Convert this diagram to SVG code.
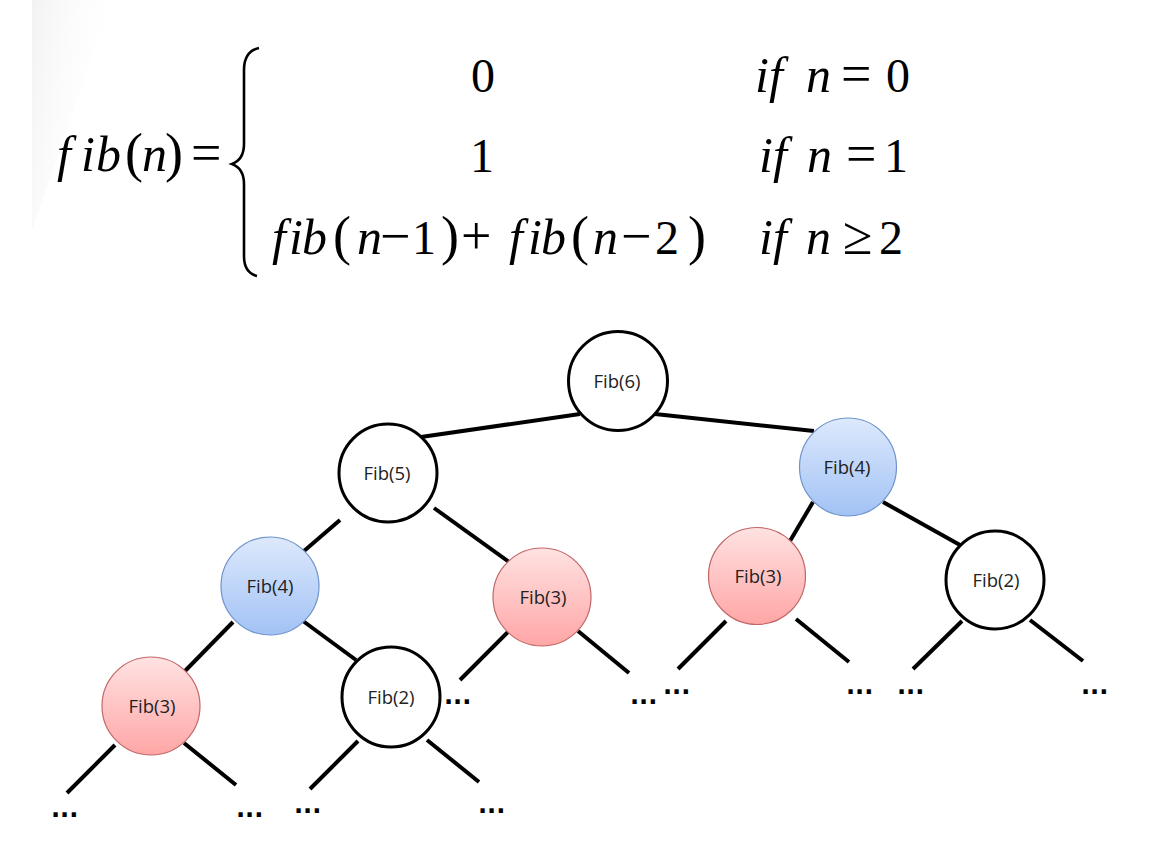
<svg xmlns="http://www.w3.org/2000/svg" width="1155" height="858" viewBox="0 0 1155 858">
<defs>
<linearGradient id="gBlue" x1="0" y1="0" x2="0" y2="1">
<stop offset="0" stop-color="#dde9fc"/>
<stop offset="1" stop-color="#a2c2f5"/>
</linearGradient>
<linearGradient id="gRed" x1="0" y1="0" x2="0" y2="1">
<stop offset="0" stop-color="#ffe2e2"/>
<stop offset="1" stop-color="#ffa6a6"/>
</linearGradient>
<linearGradient id="gBg" x1="0" y1="0" x2="1" y2="0.4">
<stop offset="0" stop-color="#f2f2f2"/>
<stop offset="1" stop-color="#ffffff" stop-opacity="0"/>
</linearGradient>
</defs>
<rect x="0" y="0" width="1155" height="858" fill="#fff"/>
<polygon points="32,0 112,0 32,230" fill="url(#gBg)"/>

<g id="formula" font-family="Liberation Serif" fill="#000">
<text x="57" y="171" font-style="italic" font-size="50">f</text>
<text x="81" y="171" font-style="italic" font-size="50">i</text>
<text x="96" y="171" font-style="italic" font-size="50">b</text>
<text x="125" y="171" font-size="54">(</text>
<text x="142" y="171" font-style="italic" font-size="50">n</text>
<text x="165" y="171" font-size="54">)</text>
<text x="191" y="171" font-size="54">=</text>
<path d="M 259 48 C 250 50 244 57 244 70 L 244 144 C 244 155 240 161 232 164 C 240 167 244 173 244 184 L 244 256 C 244 268 249 274 257 276" fill="none" stroke="#000" stroke-width="2.6"/>
<text x="483" y="92" font-size="48" text-anchor="middle">0</text>
<text x="482" y="172" font-size="48" text-anchor="middle">1</text>
<text x="272" y="254" font-style="italic" font-size="50">f</text>
<text x="289" y="254" font-style="italic" font-size="50">i</text>
<text x="302" y="254" font-style="italic" font-size="50">b</text>
<text x="333" y="254" font-size="54">(</text>
<text x="357" y="254" font-style="italic" font-size="50">n</text>
<text x="380" y="254" font-size="54">−</text>
<text x="412" y="254" font-size="48">1</text>
<text x="441" y="254" font-size="54">)</text>
<text x="461" y="254" font-size="54">+</text>
<text x="509" y="254" font-style="italic" font-size="50">f</text>
<text x="528" y="254" font-style="italic" font-size="50">i</text>
<text x="541" y="254" font-style="italic" font-size="50">b</text>
<text x="571" y="254" font-size="54">(</text>
<text x="593" y="254" font-style="italic" font-size="50">n</text>
<text x="621" y="254" font-size="54">−</text>
<text x="655" y="254" font-size="48">2</text>
<text x="688" y="254" font-size="54">)</text>
<text x="755" y="92" font-style="italic" font-size="50">if</text>
<text x="806" y="92" font-style="italic" font-size="50">n</text>
<text x="841" y="92" font-size="54">=</text>
<text x="886" y="92" font-size="48">0</text>
<text x="759" y="172" font-style="italic" font-size="50">if</text>
<text x="807" y="172" font-style="italic" font-size="50">n</text>
<text x="846" y="172" font-size="54">=</text>
<text x="884" y="172" font-size="48">1</text>
<text x="759" y="254" font-style="italic" font-size="50">if</text>
<text x="806" y="254" font-style="italic" font-size="50">n</text>
<text x="843" y="254" font-size="54">≥</text>
<text x="879" y="254" font-size="48">2</text>
</g>

<g id="connectors" stroke="#000" stroke-width="4" fill="none">
<line x1="421" y1="437" x2="580" y2="414"/>
<line x1="655" y1="414" x2="814" y2="431"/>
<line x1="340" y1="520" x2="304" y2="551"/>
<line x1="434" y1="508" x2="509" y2="562"/>
<line x1="813" y1="502" x2="790" y2="541"/>
<line x1="883" y1="502" x2="960" y2="545"/>
<line x1="233" y1="622" x2="185" y2="671"/>
<line x1="303" y1="621" x2="356" y2="660"/>
<line x1="115" y1="745" x2="67" y2="793"/>
<line x1="184" y1="743" x2="236" y2="785"/>
<line x1="358" y1="741" x2="310" y2="789"/>
<line x1="427" y1="740" x2="479" y2="782"/>
<line x1="509" y1="631" x2="460" y2="680"/>
<line x1="578" y1="631" x2="629" y2="673"/>
<line x1="726" y1="621" x2="678" y2="669"/>
<line x1="796" y1="619" x2="849" y2="662"/>
<line x1="962" y1="621" x2="913" y2="669"/>
<line x1="1030" y1="620" x2="1083" y2="661"/>
</g>

<g id="nodes" font-family="Open Sans" font-size="18.5" text-anchor="middle">
<g id="n-fib6"><ellipse cx="618" cy="381" rx="49.5" ry="49.5" fill="#fff" stroke="#000" stroke-width="3"/><text x="617" y="388" fill="#222">Fib(6)</text></g>
<g id="n-fib5"><ellipse cx="388" cy="473" rx="49" ry="49" fill="#fff" stroke="#000" stroke-width="3"/><text x="387" y="480" fill="#222">Fib(5)</text></g>
<g id="n-fib4r"><ellipse cx="848" cy="467" rx="48.5" ry="49" fill="url(#gBlue)" stroke="#6f93cc" stroke-width="1.2"/><text x="847" y="474" fill="#222">Fib(4)</text></g>
<g id="n-fib4l"><ellipse cx="270" cy="586" rx="49" ry="49" fill="url(#gBlue)" stroke="#6f93cc" stroke-width="1.2"/><text x="270" y="593" fill="#222">Fib(4)</text></g>
<g id="n-fib3m"><ellipse cx="542" cy="597" rx="49" ry="49" fill="url(#gRed)" stroke="#c26767" stroke-width="1.2"/><text x="543" y="604" fill="#222">Fib(3)</text></g>
<g id="n-fib3r"><ellipse cx="757" cy="576" rx="48.5" ry="48.5" fill="url(#gRed)" stroke="#c26767" stroke-width="1.2"/><text x="758" y="583" fill="#222">Fib(3)</text></g>
<g id="n-fib2r"><ellipse cx="995" cy="580" rx="49" ry="49" fill="#fff" stroke="#000" stroke-width="3"/><text x="996" y="587" fill="#222">Fib(2)</text></g>
<g id="n-fib3l"><ellipse cx="151" cy="706" rx="49" ry="49" fill="url(#gRed)" stroke="#c26767" stroke-width="1.2"/><text x="152" y="713" fill="#222">Fib(3)</text></g>
<g id="n-fib2l"><ellipse cx="391" cy="697" rx="49" ry="50" fill="#fff" stroke="#000" stroke-width="3"/><text x="391" y="704" fill="#222">Fib(2)</text></g>
</g>

<g id="ellipses" font-family="DejaVu Sans" font-weight="bold" font-size="24" fill="#000">
<text x="51" y="817">...</text>
<text x="236" y="817">...</text>
<text x="294" y="813">...</text>
<text x="478" y="813">...</text>
<text x="444" y="704">...</text>
<text x="630" y="704">...</text>
<text x="663" y="694">...</text>
<text x="846" y="694">...</text>
<text x="897" y="694">...</text>
<text x="1081" y="694">...</text>
</g>
</svg>
